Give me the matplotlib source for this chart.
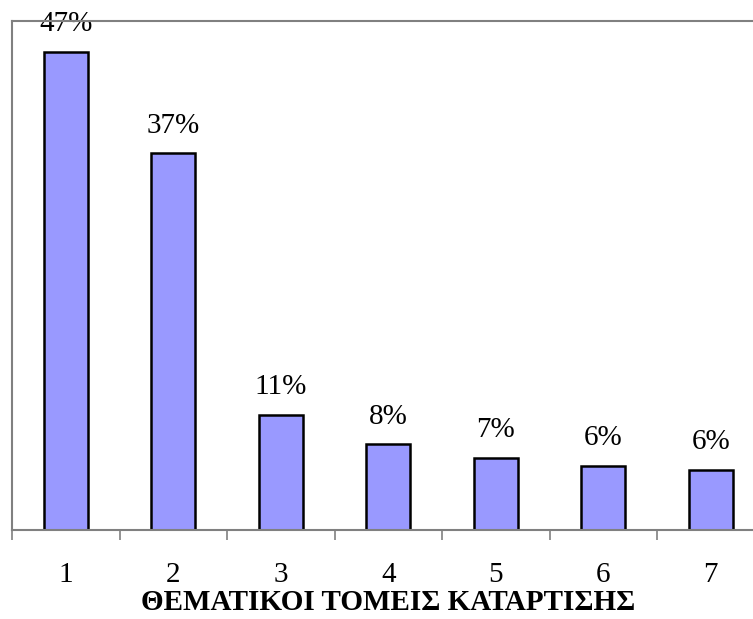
import matplotlib
matplotlib.use("Agg")
import matplotlib.pyplot as plt
from matplotlib.ticker import FixedLocator

# Ποσοστά ανά θεματικό τομέα κατάρτισης
categories = ["1", "2", "3", "4", "5", "6", "7"]
values = [47.0, 37.0, 11.3, 8.4, 7.1, 6.3, 5.9]
xlabel = "ΘΕΜΑΤΙΚΟΙ ΤΟΜΕΙΣ ΚΑΤΑΡΤΙΣΗΣ"

plt.rcParams["font.family"] = ["Liberation Serif", "DejaVu Serif"]

fig = plt.figure(figsize=(7.53, 6.19), dpi=100)
# ο άξονας συνεχίζει λίγο πέρα από τη δεξιά άκρη της εικόνας
ax = fig.add_axes([12 / 753, 89 / 619, 752.5 / 753, 509 / 619])

x = list(range(1, len(values) + 1))
ax.bar(x, values, width=0.41, color="#9999FF", edgecolor="black", linewidth=1.8, zorder=2)

for xi, v in zip(x, values):
    ax.annotate(f"{v:.0f}%", (xi, v), xytext=(0, 10.5), textcoords="offset points",
                ha="center", va="bottom", fontsize=21, zorder=1)

ax.set_xlim(0.5, 7.5)
ax.set_ylim(0, 50)
ax.set_yticks([])

ax.set_xticks(x)
ax.set_xticklabels(categories, fontsize=21)
ax.tick_params(axis="x", which="major", length=0, pad=23)
ax.xaxis.set_minor_locator(FixedLocator([i + 0.5 for i in range(0, 8)]))
ax.tick_params(axis="x", which="minor", length=7.5, width=1.2, color="#808080", direction="out")

ax.set_xlabel(xlabel, fontsize=21, fontweight="bold", labelpad=0.5)

for s in ax.spines.values():
    s.set_color("#808080")
    s.set_linewidth(1.5)

fig.savefig("out.png", dpi=100)
